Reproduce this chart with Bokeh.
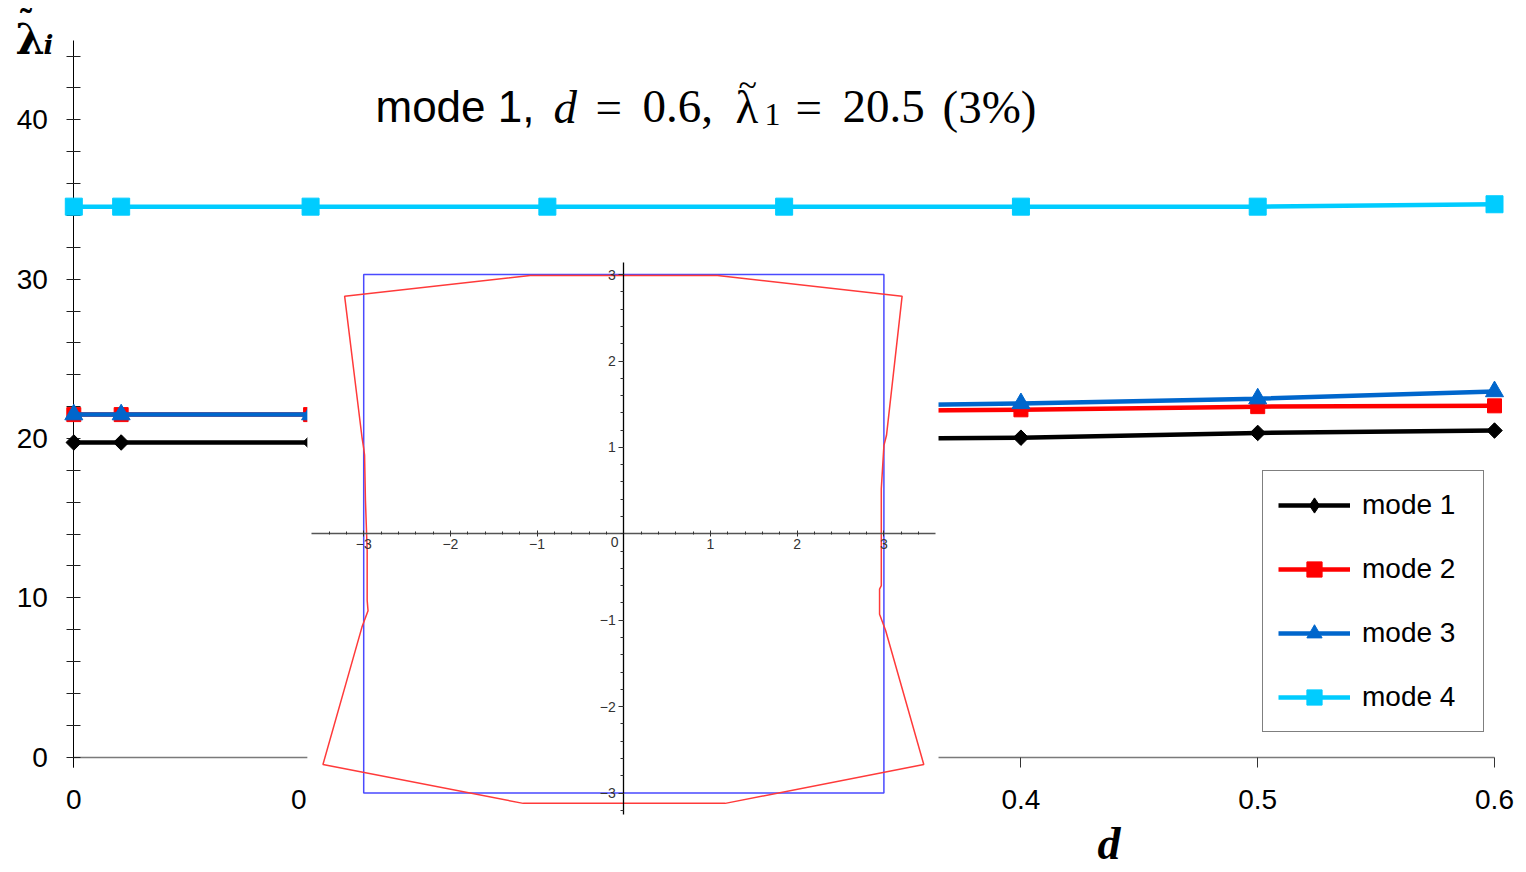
import numpy as np
from bokeh.plotting import figure
from bokeh.models import (Range1d, LinearAxis, FixedTicker, NumeralTickFormatter,
                          Legend, LegendItem, Label)
from bokeh.core.properties import value
from bokeh.embed import file_html
from bokeh.resources import INLINE

# ---------------- data ----------------
d_values = [0.0, 0.02, 0.1, 0.2, 0.3, 0.4, 0.5, 0.6]
mode1 = [19.75, 19.75, 19.75, 19.8, 19.95, 20.05, 20.35, 20.5]
mode2 = [21.5, 21.5, 21.5, 21.55, 21.7, 21.8, 22.0, 22.05]
mode3 = [21.5, 21.5, 21.5, 21.7, 22.0, 22.2, 22.5, 22.95]
mode4 = [34.55, 34.55, 34.55, 34.55, 34.55, 34.55, 34.55, 34.7]
series_names = ["mode 1", "mode 2", "mode 3", "mode 4"]

x_ticks = [0, 0.1, 0.2, 0.3, 0.4, 0.5, 0.6]
y_ticks = [0, 10, 20, 30, 40]
y_minor_ticks = [2, 4, 6, 8, 12, 14, 16, 18, 22, 24, 26, 28, 32, 34, 36, 38, 42, 44]

# inset: undeformed square section and deformed outline of mode 1
square_half = 3.0
outline_x = [-3.22, -1.08, 1.08, 3.21, 3.03, 3.0, 2.97, 2.97, 2.97, 2.95, 2.95, 3.02,
             3.46, 1.17, -1.16, -3.47, -3.02, -2.95, -2.96, -2.96, -2.98, -2.99, -3.0, -3.02]
outline_y = [2.75, 2.99, 2.99, 2.75, 1.14, 1.02, 0.52, 0.15, -0.6, -0.64, -0.93, -1.12,
             -2.67, -3.12, -3.12, -2.67, -1.08, -0.89, -0.77, -0.19, 0.39, 0.91, 0.99, 1.12]
inset_ticks = [-3, -2, -1, 1, 2, 3]
inset_x_minor = [round(v, 1) for v in np.arange(-3.4, 3.41, 0.2)]
inset_y_minor = [round(v, 1) for v in np.arange(-3.2, 3.01, 0.2)]
inset_x_bounds = (-3.6, 3.6)
inset_y_bounds = (-3.25, 3.14)
inset_x_extent = (-3.65, 3.63)
inset_y_extent = (-3.27, 3.28)

# ---------------- layout helpers ----------------
W, H = 1526, 872


def pixel_span(p0, v0, p1, v1, total):
    """Values found at pixel 0 and at pixel `total` for a linear pixel->value map."""
    k = (v1 - v0) / (p1 - p0)
    return v0 - p0 * k, v0 + (total - p0) * k


mx0, mx1 = pixel_span(73.3, 0.0, 1494.0, 0.6, W)
my_top, my_bottom = pixel_span(756.7, 0.0, 119.3, 40.0, H)
ix0, ix1 = pixel_span(623.3, 0.0, 883.4, 3.0, W)
iy_top, iy_bottom = pixel_span(533.3, 0.0, 274.1, 3.0, H)

p = figure(width=W, height=H,
           x_range=Range1d(mx0, mx1), y_range=Range1d(my_bottom, my_top),
           x_axis_location=None, y_axis_location=None,
           toolbar_location=None, output_backend="svg", title=None)
p.min_border = 0
p.min_border_left = 0
p.min_border_right = 0
p.min_border_top = 0
p.min_border_bottom = 0
p.outline_line_color = None
p.background_fill_color = "white"
p.border_fill_color = "white"
p.grid.visible = False

p.extra_x_ranges = {"inset": Range1d(ix0, ix1)}
p.extra_y_ranges = {"inset": Range1d(iy_bottom, iy_top)}

# ---------------- main axes ----------------
yax = LinearAxis(fixed_location=0, bounds=(-0.63, 45), level="underlay",
                 ticker=FixedTicker(ticks=y_ticks, minor_ticks=y_minor_ticks))
yax.axis_line_color = "black"
yax.axis_line_width = 1
yax.major_tick_in = 7
yax.major_tick_out = 7
yax.minor_tick_in = 7
yax.minor_tick_out = 7
yax.major_tick_line_color = "#222222"
yax.minor_tick_line_color = "#222222"
yax.major_label_text_font = "Liberation Sans"
yax.major_label_text_font_size = "28px"
yax.major_label_text_color = "black"
yax.major_label_standoff = 19
p.add_layout(yax, "left")

xax = LinearAxis(fixed_location=0, bounds=(0, 0.6), level="underlay",
                 ticker=FixedTicker(ticks=x_ticks, minor_ticks=[]),
                 formatter=NumeralTickFormatter(format="0.[0]"))
xax.axis_line_color = "#7a7a7a"
xax.axis_line_width = 1.5
xax.major_tick_in = 0
xax.major_tick_out = 10
xax.major_tick_line_color = "#333333"
xax.major_label_text_font = "Liberation Sans"
xax.major_label_text_font_size = "28px"
xax.major_label_text_color = "black"
xax.major_label_standoff = 23
p.add_layout(xax, "below")

# ---------------- eigenvalue curves ----------------
colors = ["#000000", "#ff0000", "#0066cc", "#00ccff"]
markers = ["square", "square", "triangle", "square"]
sizes = [11, 14, 18, 17]
angles = [np.pi / 4, 0, 0, 0]
items = []
for name, vals, c, m, s, a in zip(series_names, [mode1, mode2, mode3, mode4],
                                  colors, markers, sizes, angles):
    rl = p.line(d_values, vals, line_color=c, line_width=4.5)
    rs = p.scatter(d_values, vals, marker=m, size=s, angle=a,
                   fill_color=c, line_color=c)
    legend_marks = [rl, rs]
    if a != 0:
        # upright diamond kept under the tilted square; it gives the legend its symbol
        rd = p.scatter(d_values, vals, marker="diamond", size=14,
                       fill_color=c, line_color=c)
        legend_marks = [rl, rd]
    items.append(LegendItem(label=name, renderers=legend_marks))

# ---------------- inset: cross-section shape ----------------
p.quad(left=[inset_x_extent[0]], right=[inset_x_extent[1]],
       bottom=[inset_y_extent[0]], top=[inset_y_extent[1]],
       fill_color="white", line_color=None,
       x_range_name="inset", y_range_name="inset")
p.quad(left=[-square_half], right=[square_half],
       bottom=[-square_half], top=[square_half],
       fill_color=None, line_color="#4a4aff", line_width=1.5,
       x_range_name="inset", y_range_name="inset")
p.patch(outline_x, outline_y, fill_color=None, line_color="#ff3a3a", line_width=1.5,
        x_range_name="inset", y_range_name="inset")
p.text(x=[-0.06], y=[-0.04], text=["0"], text_align="right", text_baseline="top",
       text_font=value("Liberation Sans"), text_font_size="14px", text_color="#333333",
       x_range_name="inset", y_range_name="inset")

ixax = LinearAxis(x_range_name="inset", y_range_name="inset", fixed_location=0,
                  bounds=inset_x_bounds,
                  ticker=FixedTicker(ticks=inset_ticks, minor_ticks=inset_x_minor))
ixax.axis_line_color = "#555555"
ixax.axis_line_width = 1.5
ixax.major_tick_in = 3
ixax.major_tick_out = 3
ixax.minor_tick_in = 2
ixax.minor_tick_out = 1
ixax.major_tick_line_color = "#333333"
ixax.minor_tick_line_color = "#333333"
ixax.major_label_text_font = "Liberation Sans"
ixax.major_label_text_font_size = "14px"
ixax.major_label_text_color = "#333333"
ixax.major_label_standoff = 2
p.add_layout(ixax, "below")

iyax = LinearAxis(x_range_name="inset", y_range_name="inset", fixed_location=0,
                  bounds=inset_y_bounds,
                  ticker=FixedTicker(ticks=inset_ticks, minor_ticks=inset_y_minor))
iyax.axis_line_color = "black"
iyax.axis_line_width = 1.3
iyax.major_tick_in = 0
iyax.major_tick_out = 5
iyax.minor_tick_in = 0
iyax.minor_tick_out = 3
iyax.major_tick_line_color = "#333333"
iyax.minor_tick_line_color = "#333333"
iyax.major_label_text_font = "Liberation Sans"
iyax.major_label_text_font_size = "14px"
iyax.major_label_text_color = "#333333"
iyax.major_label_standoff = 3
p.add_layout(iyax, "left")

# ---------------- legend ----------------
legend = Legend(items=items, location=(1262, 140))
legend.border_line_color = "black"
legend.border_line_width = 1
legend.background_fill_color = "white"
legend.background_fill_alpha = 1
legend.label_text_font = "Liberation Sans"
legend.label_text_font_size = "28px"
legend.label_text_color = "black"
legend.glyph_width = 72
legend.glyph_height = 38
legend.label_height = 38
legend.label_width = 106
legend.label_standoff = 12
legend.spacing = 26
legend.padding = 15
legend.margin = 0
p.add_layout(legend, "center")


# ---------------- title and axis names ----------------
def put(text, x, baseline, font, size, style="normal", color="black"):
    p.add_layout(Label(x=x, y=H - baseline, x_units="screen", y_units="screen",
                       text=text, text_font=font, text_font_size=size,
                       text_font_style=style, text_color=color,
                       text_align="left", text_baseline="alphabetic"))


put("mode 1,", 375, 106, "Liberation Sans", "44px")
put("d", 553, 106, "Liberation Serif", "47px", "italic")
put("=", 595, 106, "Liberation Serif", "47px")
put("0.6,", 642, 106, "Liberation Serif", "47px")
put("λ", 735, 106, "Liberation Serif", "47px")
put("~", 738, 84, "Liberation Serif", "34px")
put("1", 764, 114, "Liberation Serif", "32px")
put("=", 795, 106, "Liberation Serif", "47px")
put("20.5", 842, 106, "Liberation Serif", "47px")
put("(3%)", 942, 106, "Liberation Serif", "47px")

# ordinate name: lambda-tilde with subscript i
put("λ", 15, 39, "DejaVu Serif", "42px", "bold")
put("˜", 17, 22, "DejaVu Serif", "34px", "bold")
put("i", 43, 44, "DejaVu Serif", "26px", "bold italic")

# abscissa name
put("d", 1097, 843, "Liberation Serif", "46px", "bold italic")

open("out.html", "w").write(file_html(p, INLINE))
